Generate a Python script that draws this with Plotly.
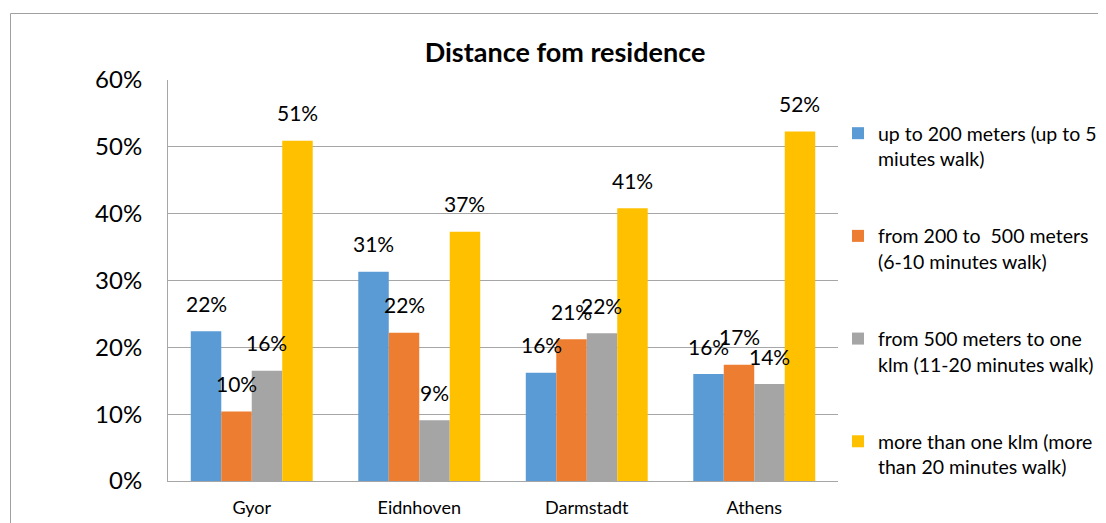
import plotly.graph_objects as go

categories = ["Gyor", "Eidnhoven", "Darmstadt", "Athens"]
series_names = [
    "up to 200 meters (up to 5<br>miutes walk)",
    "from 200 to  500 meters<br>(6-10 minutes walk)",
    "from 500 meters to one<br>klm (11-20 minutes walk)",
    "more than one klm (more<br>than 20 minutes walk)",
]
up_to_200 = [0.224, 0.313, 0.162, 0.160]
from_200_to_500 = [0.104, 0.222, 0.212, 0.174]
from_500_to_1k = [0.165, 0.091, 0.221, 0.145]
more_than_1k = [0.509, 0.373, 0.408, 0.523]
y_ticks = [0, 0.1, 0.2, 0.3, 0.4, 0.5, 0.6]
y_tick_labels = ["0%", "10%", "20%", "30%", "40%", "50%", "60%"]

colors = ["#5B9BD5", "#ED7D31", "#A5A5A5", "#FFC000"]
all_series = [up_to_200, from_200_to_500, from_500_to_1k, more_than_1k]

FONT = "Lato"
bargap = 0.272
n = len(all_series)
bw = (1 - bargap) / n
xs = list(range(len(categories)))

fig = go.Figure()
annotations = []
for j, (name, vals, col) in enumerate(zip(series_names, all_series, colors)):
    fig.add_trace(go.Bar(
        x=xs, y=vals, name=name, marker=dict(color=col, line=dict(width=0)),
        legendgroup=f"g{j}",
    ))
    for i, v in enumerate(vals):
        xc = i - (1 - bargap) / 2 + bw * (j + 0.5)
        annotations.append(dict(
            x=xc, y=v, xref="x", yref="y", text=f"{round(v*100)}%",
            showarrow=False, yanchor="middle", yshift=28,
            font=dict(family=FONT, size=21, color="#000000"),
        ))

# page body has an 8px margin; work in screen pixels and shift
OFF = 8
W, H = 1106 - OFF, 523 - OFF
L, R, T, B = 168 - OFF, 838 - OFF, 80 - OFF, 481 - OFF
pw, ph = R - L, B - T

def px_x(p):
    return (p - OFF - L) / pw

def px_y(p):
    return (B - (p - OFF)) / ph

shapes = [
    dict(type="line", xref="paper", yref="paper", x0=px_x(10.5), x1=px_x(1120),
         y0=px_y(13.5), y1=px_y(13.5), line=dict(color="#A0A0A0", width=1)),
    dict(type="line", xref="paper", yref="paper", x0=px_x(10.5), x1=px_x(10.5),
         y0=px_y(13.5), y1=px_y(540), line=dict(color="#A0A0A0", width=1)),
]

fig.update_layout(
    width=W, height=H,
    margin=dict(l=L, r=W - R, t=T, b=H - B, autoexpand=False),
    paper_bgcolor="white", plot_bgcolor="white",
    barmode="group", bargap=bargap, bargroupgap=0,
    title=dict(text="<b>Distance fom residence</b>", x=(565 - OFF) / W, xanchor="center",
               y=1 - (53 - OFF) / H, yanchor="middle",
               font=dict(family=FONT, size=27, color="#000000")),
    font=dict(family=FONT, color="#000000"),
    xaxis=dict(tickmode="array", tickvals=xs, ticktext=categories,
               range=[-0.5, len(categories) - 0.5],
               showgrid=False, showline=True, linecolor="#A6A6A6", linewidth=1,
               ticks="", ticklabelstandoff=10,
               tickfont=dict(family=FONT, size=18, color="#000000"),
               zeroline=False, fixedrange=True),
    yaxis=dict(range=[0, 0.6], tickmode="array", tickvals=y_ticks,
               ticktext=y_tick_labels, showgrid=True, gridcolor="#A6A6A6",
               gridwidth=1, showline=True, linecolor="#A6A6A6", linewidth=1,
               ticks="", ticklabelstandoff=20, zeroline=False,
               tickfont=dict(family=FONT, size=24, color="#000000")),
    legend=dict(x=px_x(838), xanchor="left", y=px_y(114), yanchor="top",
                font=dict(family=FONT, size=19.5, color="#000000"),
                valign="top", tracegroupgap=49, itemwidth=30,
                bgcolor="rgba(0,0,0,0)"),
    annotations=annotations,
    shapes=shapes,
)

fig.write_html("out.html")
